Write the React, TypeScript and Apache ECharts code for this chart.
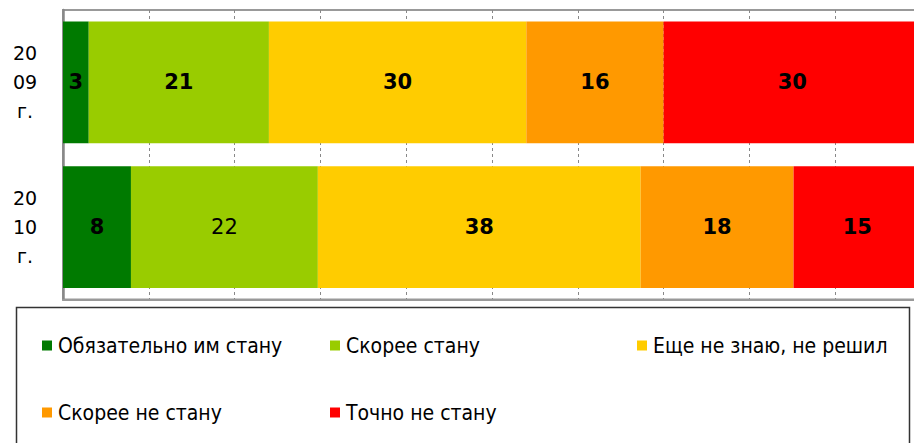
import React, { useEffect, useRef } from "react";
import * as echarts from "echarts";

const categories = ["2009 г.", "2010 г."];
const seriesNames = [
  "Обязательно им стану",
  "Скорее стану",
  "Еще не знаю, не решил",
  "Скорее не стану",
  "Точно не стану",
];
const values2009 = [3, 21, 30, 16, 30];
const values2010 = [8, 22, 38, 18, 15];
const colors = ["#007A00", "#99CC00", "#FFCC00", "#FF9900", "#FF0000"];
const legendPos = [
  { left: 37, top: 330 },
  { left: 325, top: 330 },
  { left: 632, top: 330 },
  { left: 37, top: 397 },
  { left: 325, top: 397 },
];

export default function App() {
  const ref = useRef<HTMLDivElement>(null);
  useEffect(() => {
    if (!ref.current) return;
    const chart = echarts.init(ref.current, null, { renderer: "svg" });
    const rows = [values2009, values2010];
    const totals = rows.map((r) => r.reduce((a, b) => a + b, 0));
    const series = seriesNames.map((name, i) => ({
      name,
      type: "bar",
      stack: "total",
      barCategoryGap: "16%",
      itemStyle: { color: colors[i] },
      label: {
        show: true,
        position: "inside",
        color: "#000",
        fontFamily: "DejaVu Sans",
        fontWeight: "bold",
        fontSize: 21,
        formatter: (p: any) => String(p.data.raw),
      },
      data: rows.map((r, j) => {
        const item: any = { value: (r[i] / totals[j]) * 100, raw: r[i] };
        if (i === 1 && j === 1) item.label = { fontWeight: "normal" };
        return item;
      }),
    }));
    chart.setOption({
      animation: false,
      backgroundColor: "#fff",
      grid: {
        left: 63,
        top: 10,
        right: -7,
        bottom: 143.5,
        show: true,
        borderColor: "#999",
        borderWidth: 2,
        outerBoundsMode: "none",
        containLabel: false,
      },
      xAxis: {
        type: "value",
        min: 0,
        max: 100,
        interval: 10,
        axisLabel: { show: false },
        axisTick: { show: false },
        axisLine: { show: true, lineStyle: { color: "#999", width: 2 } },
        splitLine: {
          show: true,
          lineStyle: { color: "#888", type: [3, 3], width: 1 },
        },
      },
      yAxis: {
        type: "category",
        inverse: true,
        data: categories,
        axisTick: { show: false },
        axisLine: { show: true, lineStyle: { color: "#888", width: 2.5 } },
        axisLabel: {
          margin: 38,
          align: "center",
          color: "#000",
          fontFamily: "DejaVu Sans",
          fontSize: 19,
          lineHeight: 29,
          padding: [12, 0, 0, 0],
          formatter: (v: string) => {
            const [y, g] = v.split(" ");
            return y.slice(0, 2) + "\n" + y.slice(2) + "\n" + g;
          },
        },
      },
      legend: seriesNames.map((name, i) => ({
        data: [name],
        left: legendPos[i].left,
        top: legendPos[i].top,
        icon: "rect",
        itemWidth: 10,
        itemHeight: 10,
        selectedMode: false,
        textStyle: {
          color: "#000",
          fontFamily: "DejaVu Sans Condensed",
          fontSize: 21,
          padding: [0, 0, 0, 1],
        },
      })),
      graphic: [
        {
          type: "rect",
          z: -1,
          shape: { x: 16.5, y: 307.5, width: 893, height: 150 },
          style: { fill: "none", stroke: "#333", lineWidth: 1.5 },
        },
      ],
      series,
    });
    return () => chart.dispose();
  }, []);
  return (
    <div
      ref={ref}
      style={{ position: "absolute", left: 0, top: 0, width: 914, height: 443 }}
    />
  );
}
